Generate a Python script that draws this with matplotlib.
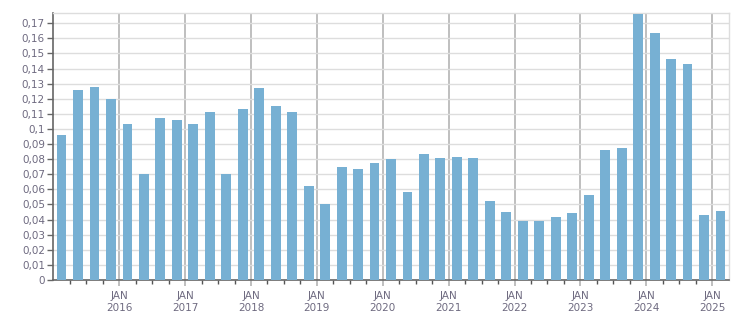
import matplotlib
matplotlib.use("Agg")
import matplotlib.pyplot as plt
from matplotlib.ticker import FixedLocator, FuncFormatter

# quarterly values, Q1 2015 .. Q1 2025
values = [0.096, 0.126, 0.128, 0.120, 0.103, 0.070, 0.107, 0.106, 0.103, 0.111,
          0.070, 0.113, 0.127, 0.115, 0.111, 0.062, 0.050, 0.075, 0.0735, 0.0775,
          0.080, 0.058, 0.0835, 0.081, 0.0815, 0.081, 0.052, 0.045, 0.039, 0.039,
          0.0417, 0.0444, 0.0563, 0.086, 0.0874, 0.1762, 0.1636, 0.1464, 0.143,
          0.043, 0.0457]
years = list(range(2016, 2026))
year_labels = ["JAN\n" + str(y) for y in years]

bar_color = "#77b0d3"
text_color = "#6e6a80"

fig = plt.figure(figsize=(7.51, 3.13), dpi=100)
ax = fig.add_axes([0.071, 0.1054, 0.8993, 0.8521])

x = [i + 0.5 for i in range(len(values))]
ax.bar(x, values, width=0.6, color=bar_color, zorder=3)

ax.set_xlim(0, len(values))
ax.set_ylim(0, 0.1766)

# y axis
yt = [i / 100 for i in range(18)]
ax.yaxis.set_major_locator(FixedLocator(yt))
ax.yaxis.set_major_formatter(FuncFormatter(
    lambda v, p: "0" if abs(v) < 1e-9 else ("%g" % round(v, 2)).replace(".", ",")))
ax.grid(axis="y", color="#dddddd", linewidth=1, zorder=0)

# x axis: major ticks each January, minor each quarter
majors = [4 * (y - 2015) for y in years]
ax.set_xticks(majors)
ax.set_xticklabels(year_labels)
ax.set_xticks([q for q in range(1, len(values)) if q % 4 != 0], minor=True)
for m in majors:
    ax.axvline(m, color="#b4b4b4", linewidth=1.2, zorder=1)

ax.tick_params(axis="y", colors="#666666", labelcolor=text_color, labelsize=7.5,
               length=4, width=1, pad=2)
ax.tick_params(axis="x", which="major", color="#b4b4b4", labelcolor=text_color,
               labelsize=7.5, length=4, width=1.2, pad=4)
ax.tick_params(axis="x", which="minor", color="#555555", length=3, width=1)

for s in ["left", "bottom"]:
    ax.spines[s].set_color("#666666")
    ax.spines[s].set_linewidth(1.2)
for s in ["top", "right"]:
    ax.spines[s].set_color("#dddddd")
    ax.spines[s].set_linewidth(1)

plt.savefig("out.png", dpi=100)
